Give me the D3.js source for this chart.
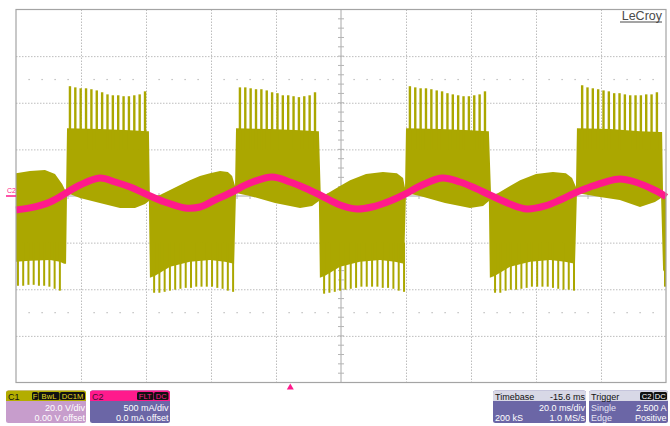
<!DOCTYPE html>
<html>
<head>
<meta charset="utf-8">
<script src="https://cdn.jsdelivr.net/npm/d3@7"></script>
<style>
  body { margin: 0; background: #fff; }
  svg { display: block; font-family: "Liberation Sans", Arial, sans-serif; }
</style>
</head>
<body>
<div id="scope"></div>
<script>
// ---- data (time in ms from left edge, C1 in V, C2 in mA) ----

// upper edge of the solid C1 (switching) envelope
const c1TopEdge = [
  [0, 9.8], [4.3, 10.7], [8.9, 11.1], [12.0, 9.4], [14.2, 5.1], [15.4, 1.7],
  [15.7, 29.1], [25.8, 28.7], [35.1, 28.2], [40.6, 27.8], [40.9, 27.8],
  [41.2, -0.4], [44.3, 0.4], [47.4, 2.6], [50.5, 4.7], [53.5, 6.8], [56.6, 8.6], [59.7, 9.8], [62.8, 10.7], [65.2, 10.3], [66.5, 8.6], [67.4, 4.3],
  [67.7, 29.1], [78.2, 28.7], [87.4, 28.2], [92.9, 27.8], [93.2, 27.8],
  [93.8, -0.4], [96.6, 1.7], [99.7, 4.3], [102.8, 6.8], [107.7, 9.4], [112.9, 10.3], [117.2, 9.8], [119.1, 7.7], [119.7, 3.4],
  [120.0, 29.1], [130.5, 28.7], [139.7, 28.2], [145.2, 27.8], [145.5, 27.8],
  [146.2, -0.4], [148.9, 1.7], [152.0, 4.3], [155.1, 6.8], [160.0, 9.4], [165.2, 10.3], [169.2, 9.8], [171.1, 7.7], [172.3, 3.9],
  [172.6, 29.1], [182.8, 28.7], [192.0, 27.8], [198.2, 27.4], [198.8, 27.4],
  [199.1, 0.4], [200, 0]
];

// lower edge of the solid C1 envelope
const c1BottomEdge = [
  [0, -28.2], [4.3, -27.8], [10.5, -27.4], [13.5, -28.2], [14.8, -29.1], [15.4, -29.1],
  [15.7, 1.3], [19.7, -0.9], [25.8, -3.0], [32.0, -5.1], [36.6, -5.1], [39.7, -3.4], [40.9, -2.1],
  [41.2, -35.1], [42.8, -34.2], [47.4, -30.4], [53.5, -28.2], [59.7, -27.4], [64.3, -28.2], [67.1, -29.1],
  [67.7, 1.3], [72.0, 0], [79.7, -3.0], [87.4, -5.1], [91.1, -4.3], [93.2, -2.1],
  [93.5, -35.1], [95.1, -34.2], [99.7, -30.4], [105.8, -28.2], [112.0, -27.4], [116.6, -28.2], [119.4, -29.1],
  [120.0, 1.3], [124.3, 0], [132.0, -3.0], [139.7, -5.1], [143.7, -4.3], [145.5, -2.1],
  [145.8, -35.1], [147.4, -34.2], [152.0, -30.4], [158.2, -28.2], [164.3, -27.4], [168.9, -28.2], [172.0, -29.1],
  [172.6, 1.3], [179.7, -0.4], [185.8, -1.7], [192.0, -4.7], [196.6, -2.6], [198.5, -0.9],
  [199.1, -31.7], [200, -33.8]
];

// switching spikes sticking out of the envelope: burst start, end and the tip of each spike
const upBursts = [
  { from: 16.6, to: 39.7, tips: [47.1, 46.6, 46.2, 46.2, 45.8, 45.3, 44.5, 43.6, 43.2, 43.2, 42.8, 42.8, 43.2, 43.6, 44.9] },
  { from: 68.9, to: 92.0, tips: [46.6, 46.6, 46.2, 45.8, 45.8, 45.3, 44.5, 44.1, 43.2, 43.2, 42.8, 42.4, 42.8, 43.2, 44.5] },
  { from: 121.2, to: 144.3, tips: [47.1, 46.6, 46.2, 46.2, 45.8, 45.3, 44.9, 44.1, 43.6, 43.2, 42.8, 42.8, 43.2, 43.6, 44.9] },
  { from: 174.2, to: 197.2, tips: [47.5, 46.6, 46.2, 45.8, 45.3, 44.9, 44.1, 44.1, 43.6, 43.2, 43.2, 43.2, 43.6, 43.6, 44.5] }
];
const downBursts = [
  { from: 0.6, to: 13.5, tips: [-38.5, -38.5, -38.1, -38.1, -38.5, -38.5, -38.9, -39.8, -40.6] },
  { from: 42.5, to: 66.8, tips: [-41.5, -41.5, -41.1, -40.6, -40.2, -39.8, -39.4, -39.4, -38.9, -38.9, -38.9, -38.9, -39.4, -39.8, -40.6, -41.1] },
  { from: 94.8, to: 119.4, tips: [-41.9, -41.5, -41.1, -40.6, -40.2, -39.8, -39.4, -38.9, -38.9, -38.9, -38.9, -39.4, -39.4, -39.8, -40.6, -41.1] },
  { from: 147.4, to: 171.7, tips: [-41.5, -41.5, -40.6, -40.2, -40.2, -39.8, -39.4, -38.9, -38.9, -38.9, -38.9, -39.4, -39.8, -40.2, -40.2, -40.6] },
  { from: 199.7, to: 199.7, tips: [-38.9] }
];

// C2 current (centre of the trace)
const c2Time = [0, 4.3, 10.5, 15.4, 19.7, 25.8, 30.5, 35.1, 40.6, 45.8, 52.0, 56.6, 61.2, 66.5, 72.0,
  78.8, 84.3, 88.9, 93.5, 99.7, 104.9, 109.5, 115.1, 119.7, 124.3, 131.1, 136.6, 141.2, 145.8, 152.0,
  157.2, 162.8, 167.4, 172.6, 176.6, 181.2, 185.8, 190.5, 195.1, 198.2, 200];
const c2mA = [-150, -128, -64, 32, 118, 193, 150, 96, 11, -64, -128, -118, -43, 43, 139,
  203, 150, 86, 11, -96, -139, -118, -53, 21, 107, 193, 150, 86, 11, -86,
  -139, -107, -43, 43, 96, 150, 182, 150, 86, 32, -11];

// grid
const timeGrid = [20, 40, 60, 80, 120, 140, 160, 180];
const voltGrid = [-60, -40, -20, 20, 40, 60];
const dotRows = [50, -50];

// info boxes
const c1Info = ["C1", "20.0 V/div", "0.00 V offset"];
const c1Badges = ["F", "BwL", "DC1M"];
const c2Info = ["C2", "500 mA/div", "0.0 mA offset"];
const c2Badges = ["FLT", "DC"];
const timebaseInfo = [["Timebase", "-15.6 ms"], ["", "20.0 ms/div"], ["200 kS", "1.0 MS/s"]];
const triggerInfo = [["Trigger", ""], ["Single", "2.500 A"], ["Edge", "Positive"]];
const triggerBadges = ["C2", "DC"];
const triggerTime = 84.4;

// ---- drawing ----
const width = 670, height = 426;
const gLeft = 16, gRight = 666, gTop = 9.5, gBottom = 382.5;

const svg = d3.select("#scope").append("svg")
  .attr("width", width).attr("height", height);

const x = d3.scaleLinear().domain([0, 200]).range([gLeft, gRight]);
const yV = d3.scaleLinear().domain([-80, 80]).range([gBottom, gTop]);
const yI = d3.scaleLinear().domain([-2000, 2000]).range([gBottom, gTop]);

// dotted grid via axes
svg.append("g")
  .attr("transform", `translate(0,${gTop})`)
  .call(d3.axisBottom(x).tickValues(timeGrid).tickSize(gBottom - gTop).tickFormat(""))
  .call(g => g.select(".domain").remove())
  .call(g => g.selectAll("line").attr("stroke", "#bdbdbd").attr("stroke-dasharray", "1.5,1.5"));

svg.append("g")
  .attr("transform", `translate(${gLeft},0)`)
  .call(d3.axisRight(yV).tickValues(voltGrid).tickSize(gRight - gLeft).tickFormat(""))
  .call(g => g.select(".domain").remove())
  .call(g => g.selectAll("line").attr("stroke", "#bdbdbd").attr("stroke-dasharray", "1.5,1.5"));

// rows of minor dots
for (let v of dotRows) {
  svg.append("g").selectAll("rect")
    .data(d3.range(4, 200, 4).filter(t => t % 20 !== 0))
    .join("rect")
      .attr("x", d => x(d) - 0.5)
      .attr("y", yV(v) - 0.5)
      .attr("width", 1.2).attr("height", 1.2)
      .attr("fill", "#b0b0b0");
}

// centre cross with minor ticks
svg.append("line")
  .attr("x1", x(100)).attr("x2", x(100)).attr("y1", gTop).attr("y2", gBottom)
  .attr("stroke", "#a8a8a8");
svg.append("line")
  .attr("x1", gLeft).attr("x2", gRight).attr("y1", yV(0)).attr("y2", yV(0))
  .attr("stroke", "#a8a8a8");
svg.append("g").selectAll("line")
  .data(d3.range(-76, 80, 4))
  .join("line")
    .attr("x1", x(100) - 3).attr("x2", x(100) + 3)
    .attr("y1", d => yV(d)).attr("y2", d => yV(d))
    .attr("stroke", "#b4b4b4");
svg.append("g").selectAll("line")
  .data(d3.range(4, 200, 4))
  .join("line")
    .attr("x1", d => x(d)).attr("x2", d => x(d))
    .attr("y1", yV(0) - 3).attr("y2", yV(0) + 3)
    .attr("stroke", "#b4b4b4");

// C1 trace: envelope + spikes
const olive = "#aba700";
const edge = d3.line().x(d => x(d[0])).y(d => yV(d[1]));
svg.append("path")
  .attr("d", edge(c1TopEdge.concat(c1BottomEdge.slice().reverse())) + "Z")
  .attr("fill", olive);

function drawBursts(bursts, base, w) {
  for (let b of bursts) {
    const pos = d3.scalePoint().domain(d3.range(b.tips.length)).range([x(b.from), x(b.to)]);
    svg.append("g").selectAll("line")
      .data(b.tips)
      .join("line")
        .attr("x1", (d, i) => pos(i)).attr("x2", (d, i) => pos(i))
        .attr("y1", yV(base)).attr("y2", d => yV(d))
        .attr("stroke", olive)
        .attr("stroke-width", w);
  }
}
drawBursts(upBursts, 20, 2.4);
drawBursts(downBursts, -20, 2);

// C2 trace
const c2Line = d3.line()
  .x((d, i) => x(c2Time[i]))
  .y(d => yI(d))
  .curve(d3.curveCatmullRom);
svg.append("path")
  .attr("d", c2Line(c2mA))
  .attr("fill", "none")
  .attr("stroke", "#ff1a8c")
  .attr("stroke-width", 7);

// border
svg.append("rect")
  .attr("x", gLeft).attr("y", gTop)
  .attr("width", gRight - gLeft).attr("height", gBottom - gTop)
  .attr("fill", "none").attr("stroke", "#a4a4a4").attr("stroke-width", 1.2);

// LeCroy logo
svg.append("text")
  .attr("x", 662).attr("y", 20)
  .attr("text-anchor", "end")
  .attr("font-size", 12.5)
  .attr("fill", "#4a4a4a")
  .text("LeCroy");
svg.append("line")
  .attr("x1", 620).attr("x2", 662).attr("y1", 22).attr("y2", 22)
  .attr("stroke", "#4a4a4a");

// C2 level marker
svg.append("text")
  .attr("x", 7).attr("y", 193)
  .attr("font-size", 7)
  .attr("fill", "#ff1a8c")
  .text("C2");
svg.append("line")
  .attr("x1", 6).attr("x2", gLeft).attr("y1", yI(0)).attr("y2", yI(0))
  .attr("stroke", "#ff1a8c").attr("stroke-width", 1.5);

// trigger position marker
const tx = x(triggerTime);
svg.append("path")
  .attr("d", `M${tx - 3.5},389.5 L${tx + 3.5},389.5 L${tx},383.5 Z`)
  .attr("fill", "#ff1a8c");

// ---- info boxes ----
function txt(g, str, px, py, anchor, color, size) {
  g.append("g")
    .attr("transform", `translate(${px},${py}) scale(0.95,1)`)
    .append("text")
      .attr("text-anchor", anchor)
      .attr("font-size", size || 9.5)
      .attr("fill", color)
      .text(str);
}

function box(x0, w, headColor, bodyColor) {
  const g = svg.append("g");
  g.append("rect")
    .attr("x", x0).attr("y", 390.5).attr("width", w).attr("height", 32.5)
    .attr("rx", 2.5).attr("fill", bodyColor);
  g.append("path")
    .attr("d", `M${x0},401 V393 Q${x0},390.5 ${x0 + 2.5},390.5 H${x0 + w - 2.5} Q${x0 + w},390.5 ${x0 + w},393 V401 Z`)
    .attr("fill", headColor);
  return g;
}

function badges(g, labels, xs, ws, textColor) {
  labels.forEach((l, i) => {
    g.append("rect")
      .attr("x", xs[i]).attr("y", 392).attr("width", ws[i]).attr("height", 8)
      .attr("rx", 1.5).attr("fill", "#111");
    txt(g, l, xs[i] + ws[i] / 2, 399, "middle", textColor, 8);
  });
}

// C1
const g1 = box(6, 80, "#b3ad00", "#c79dcc");
txt(g1, c1Info[0], 8, 399.5, "start", "#111");
badges(g1, c1Badges, [32, 38.5, 60], [6, 21, 25], "#e8dc20");
txt(g1, c1Info[1], 85, 410.5, "end", "#fff");
txt(g1, c1Info[2], 85, 421, "end", "#fff");

// C2
const g2 = box(90, 80, "#ff1a8c", "#6b66a6");
txt(g2, c2Info[0], 92, 399.5, "start", "#3a1030");
badges(g2, c2Badges, [137, 154], [16.5, 14.5], "#ff1a8c");
txt(g2, c2Info[1], 168.5, 410.5, "end", "#fff");
txt(g2, c2Info[2], 168.5, 421, "end", "#fff");

// Timebase
const g3 = box(493, 93, "#d8d8e6", "#6b66a6");
const rowsY = [399.5, 410.5, 421];
timebaseInfo.forEach((r, i) => {
  const c = i === 0 ? "#111" : "#fff";
  txt(g3, r[0], 495, rowsY[i], "start", c);
  txt(g3, r[1], 585, rowsY[i], "end", c);
});

// Trigger
const g4 = box(589, 79, "#d8d8e6", "#6b66a6");
triggerInfo.forEach((r, i) => {
  txt(g4, r[0], 591, rowsY[i], "start", i === 0 ? "#111" : "#e4e4f4");
  txt(g4, r[1], 666.5, rowsY[i], "end", "#fff");
});
badges(g4, triggerBadges, [640, 653.5], [13, 13.5], "#fff");
</script>
</body>
</html>
